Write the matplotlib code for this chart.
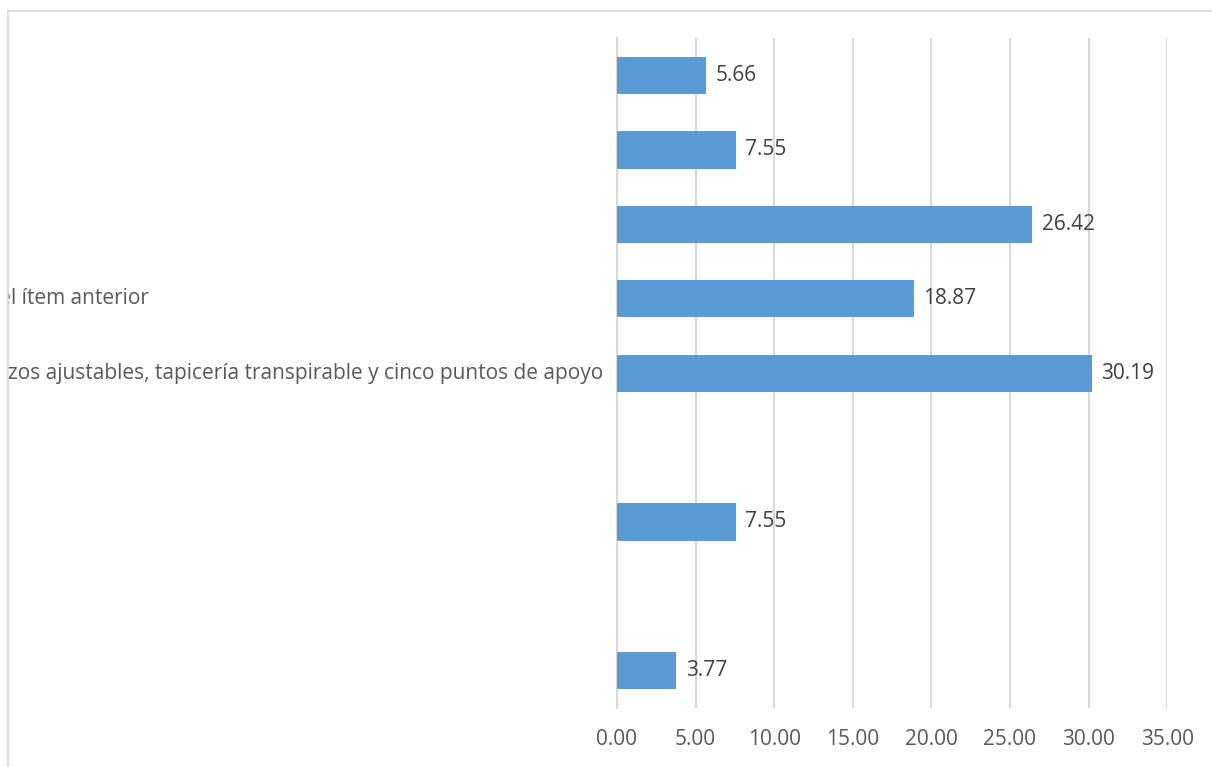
import numpy as np
import matplotlib.pyplot as plt
from matplotlib.lines import Line2D
from matplotlib.patches import Rectangle
from matplotlib.transforms import blended_transform_factory

plt.rcParams['font.family'] = ['Open Sans', 'DejaVu Sans']

# categories, top to bottom (short ones sit entirely outside the chart border)
categorias = [
    "",
    "",
    "",
    "Todas las partes del ítem anterior",
    "Silla con reposabrazos ajustables, tapicería transpirable y cinco puntos de apoyo",
    "",
    "",
    "",
    "",
]
porcentajes = [5.66, 7.55, 26.42, 18.87, 30.19, None, 7.55, None, 3.77]
ticks_x = [0, 5, 10, 15, 20, 25, 30, 35]

bar_color = "#5B9BD5"
grid_color = "#D9D9D9"
text_color = "#595959"
fs = 15

fig = plt.figure(figsize=(12.12, 7.67), dpi=100)
ax = fig.add_axes([0.509, 0.077, 0.454, 0.873])

y = np.arange(len(categorias))
for yi, val in zip(y, porcentajes):
    if val is None:
        continue
    ax.barh(yi, val, height=0.5, color=bar_color, zorder=3)
    ax.annotate(f"{val:.2f}", xy=(val, yi), xytext=(7, 0), textcoords="offset points",
                va="center", ha="left", fontsize=fs, color="#404040")

ax.set_ylim(len(categorias) - 0.5, -0.5)
ax.set_xlim(0, 35)
ax.set_yticks([])
ax.set_xticks(ticks_x)
ax.set_xticklabels([f"{t:.2f}" for t in ticks_x], fontsize=fs, color=text_color)
ax.tick_params(axis="x", length=0, pad=15)

ax.grid(axis="x", color=grid_color, linewidth=1.5, zorder=0)
for s in ["top", "right", "bottom"]:
    ax.spines[s].set_visible(False)
ax.spines["left"].set_color(grid_color)
ax.spines["left"].set_linewidth(1.5)

# category labels: one left-aligned block, the widest label ends 14 px left of the axis
trans = blended_transform_factory(ax.transAxes, ax.transData)
etiquetas = [ax.text(0, yi, c, transform=trans, ha="left", va="center",
                     fontsize=fs, color=text_color, clip_on=False)
             for yi, c in zip(y, categorias) if c]
fig.canvas.draw()
r = fig.canvas.get_renderer()
ancho = max(t.get_window_extent(r).width for t in etiquetas)
ax_w = ax.get_window_extent(r).width
x0 = -(ancho + 14) / ax_w
for t in etiquetas:
    t.set_x(x0)

# white mask left of the chart border, then the border itself
fig.patches.append(Rectangle((0, 0), 8 / 1212, 1, transform=fig.transFigure,
                             facecolor="white", edgecolor="none", zorder=10))
fig.lines.append(Line2D([8 / 1212, 8 / 1212], [0, 1 - 11 / 767], transform=fig.transFigure,
                        color=grid_color, linewidth=1.2, zorder=11))
fig.lines.append(Line2D([8 / 1212, 1], [1 - 11 / 767, 1 - 11 / 767], transform=fig.transFigure,
                        color=grid_color, linewidth=1.2, zorder=11))

fig.savefig("out.png", dpi=100, facecolor="white")
